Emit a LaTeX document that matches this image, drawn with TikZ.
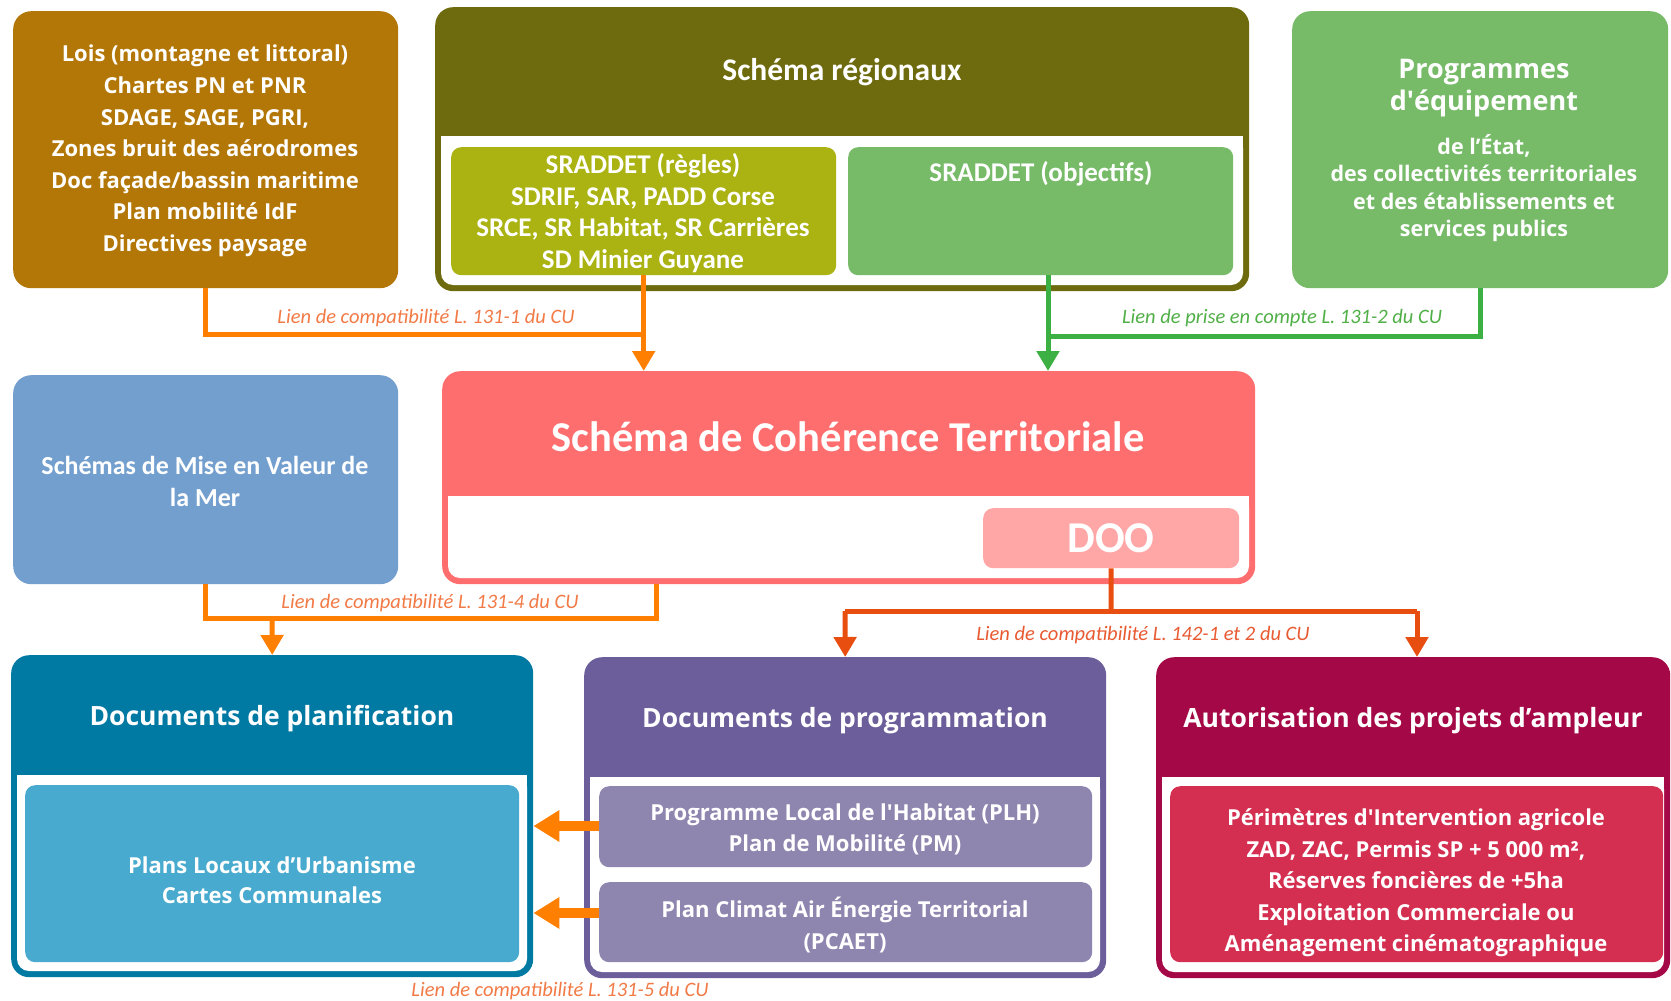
\documentclass[tikz,border=0pt]{standalone}
\usepackage{fontspec}
\setmainfont{Open Sans}
\newfontfamily\carl{Carlito}
\newfontfamily\plainos{Open Sans}
\usetikzlibrary{arrows.meta,calc}
\definecolor{loisc}{RGB}{179,119,8}
\definecolor{regc}{RGB}{110,107,14}
\definecolor{reglc}{RGB}{170,179,18}
\definecolor{greenc}{RGB}{119,187,105}
\definecolor{misec}{RGB}{115,159,207}
\definecolor{scotc}{RGB}{255,110,110}
\definecolor{dooc}{RGB}{255,166,166}
\definecolor{planc}{RGB}{0,121,163}
\definecolor{planic}{RGB}{72,170,206}
\definecolor{progc}{RGB}{108,94,154}
\definecolor{progic}{RGB}{143,134,176}
\definecolor{autc}{RGB}{165,8,70}
\definecolor{autic}{RGB}{212,46,80}
\definecolor{orl}{RGB}{255,127,0}
\definecolor{orlab}{RGB}{242,122,70}
\definecolor{grl}{RGB}{60,176,67}
\definecolor{grlab}{RGB}{80,175,70}
\definecolor{redl}{RGB}{232,78,15}
\definecolor{redlab}{RGB}{232,90,50}
\newcommand\sq{{\plainos\bfseries '}}
\begin{document}
\begin{tikzpicture}[x=1pt,y=-1pt,
  bx/.style={rectangle,rounded corners=18pt,inner sep=0pt,anchor=north west,draw=none},
  ibx/.style={rectangle,rounded corners=10pt,inner sep=0pt,anchor=north west,draw=none},
  wt/.style={text=white,align=center,inner sep=0pt},
  osb/.style={wt,font=\bfseries\fontsize{22}{31.6}\selectfont},
  crb/.style={wt,font=\carl\bfseries\fontsize{27}{31.6}\selectfont},
  ttl/.style={wt,font=\bfseries\fontsize{26.5}{30}\selectfont},
  lab/.style={inner sep=0pt,font=\carl\itshape\fontsize{20.5}{22}\selectfont},
  oline/.style={draw=orl,line width=5pt},
  gline/.style={draw=grl,line width=5pt},
  rline/.style={draw=redl,line width=5pt},
  tip/.style={-{Triangle[width=22pt,length=20pt]}},
  bigtip/.style={-{Triangle[width=30pt,length=26pt]}}
]
\useasboundingbox (0,0) rectangle (1671,1001);
\fill[white] (0,0) rectangle (1671,1001);

% ---- top row
\node[bx,fill=loisc,minimum width=385pt,minimum height=277pt] (lois) at (13,11) {};
\node[osb] (loist) at (205,151) {Lois (montagne et littoral)\\Chartes PN et PNR\\SDAGE, SAGE, PGRI,\\Zones bruit des aérodromes\\Doc façade/bassin maritime\\Plan mobilité IdF\\Directives paysage};

\node[bx,fill=regc,minimum width=814pt,minimum height=284pt] (reg) at (435,7) {};
\fill[white,rounded corners=12pt] (441,136) rectangle (1243,285);
\fill[white] (441,136) rectangle (1243,170);
\node[wt,font=\carl\bfseries\fontsize{31.5}{34}\selectfont] (regt) at (842,72) {Schéma régionaux};
\node[ibx,fill=reglc,minimum width=385pt,minimum height=128pt] (regl) at (451,147) {};
\node[crb] (reglt) at (643,213) {SRADDET (règles)\\SDRIF, SAR, PADD Corse\\SRCE, SR Habitat, SR Carrières\\SD Minier Guyane};
\node[ibx,fill=greenc,minimum width=385pt,minimum height=128pt] (obj) at (848,147) {};
\node[crb] (objt) at (1041,174) {SRADDET (objectifs)};

\node[bx,fill=greenc,minimum width=376pt,minimum height=277pt] (equip) at (1292,11) {};
\node[wt,font=\bfseries\fontsize{27}{32}\selectfont] (equipt) at (1484,88) {Programmes\\d{\plainos\bfseries\fontsize{27}{32}\selectfont '}équipement};
\node[wt,font=\bfseries\fontsize{21.5}{27.5}\selectfont] (equipd) at (1484,188) {de l’État,\\des collectivités territoriales\\et des établissements et\\services publics};

% ---- middle row
\node[bx,fill=misec,minimum width=385pt,minimum height=209pt] (mise) at (13,375) {};
\node[wt,font=\carl\bfseries\fontsize{26}{32}\selectfont] (miset) at (205,481) {Schémas de Mise en Valeur de\\la Mer};

\node[bx,fill=scotc,minimum width=813pt,minimum height=213pt] (scot) at (442,371) {};
\fill[white,rounded corners=12pt] (448,496) rectangle (1249,578);
\fill[white] (448,496) rectangle (1249,520);
\node[wt,font=\carl\bfseries\fontsize{42.5}{44}\selectfont] (scott) at (848,437) {Schéma de Cohérence Territoriale};
\node[ibx,fill=dooc,minimum width=256pt,minimum height=60pt] (doo) at (983,508) {};
\node[wt,font=\carl\bfseries\fontsize{44}{44}\selectfont] (doot) at (1111,538) {DOO};

% ---- bottom row
\node[bx,fill=planc,minimum width=522pt,minimum height=322pt] (plan) at (11,655) {};
\fill[white,rounded corners=12pt] (17,775) rectangle (527,971);
\fill[white] (17,775) rectangle (527,800);
\node[ttl] (plant) at (272,719) {Documents de planification};
\node[ibx,fill=planic,minimum width=494pt,minimum height=177pt] (plu) at (25,785) {};
\node[osb,font=\bfseries\fontsize{22}{30}\selectfont] (plut) at (272,880) {Plans Locaux d’Urbanisme\\Cartes Communales};

\node[bx,fill=progc,minimum width=522pt,minimum height=321pt] (prog) at (584,657) {};
\fill[white,rounded corners=12pt] (590,777) rectangle (1100,972);
\fill[white] (590,777) rectangle (1100,800);
\node[ttl] (progt) at (845,721) {Documents de programmation};
\node[ibx,fill=progic,minimum width=493pt,minimum height=81pt] (plh) at (599,786) {};
\node[osb] (plht) at (845,829.5) {Programme Local de l{\plainos\bfseries\fontsize{22}{31.6}\selectfont '}Habitat (PLH)\\Plan de Mobilité (PM)};
\node[ibx,fill=progic,minimum width=493pt,minimum height=80pt] (pcaet) at (599,882) {};
\node[osb] (pcaett) at (845,925) {Plan Climat Air Énergie Territorial\\(PCAET)};

\node[bx,fill=autc,minimum width=514pt,minimum height=321pt] (aut) at (1156,657) {};
\fill[white,rounded corners=12pt] (1162,777) rectangle (1664,972);
\fill[white] (1162,777) rectangle (1664,800);
\node[ttl] (autt) at (1413,721) {Autorisation des projets d’ampleur};
\node[ibx,fill=autic,minimum width=493pt,minimum height=176pt] (auti) at (1170,786) {};
\node[osb] (autit) at (1416,883) {Périmètres d{\plainos\bfseries\fontsize{22}{31.6}\selectfont '}Intervention agricole\\ZAD, ZAC, Permis SP + 5 000 m²,\\Réserves foncières de +5ha\\Exploitation Commerciale ou\\Aménagement cinématographique};

% ---- connectors
\coordinate (j1) at (643,334);
\draw[oline] (lois.south) |- (j1);
\draw[oline,tip] (regl.south) -- (regl.south |- scot.north);
\node[lab,text=orlab] (l1) at (426,318) {Lien de compatibilité L. 131-1 du CU};

\coordinate (j2) at (1048,336);
\draw[gline] (equip.south) |- (j2);
\draw[gline,tip] (j2 |- obj.south) -- (j2 |- scot.north);
\node[lab,text=grlab] (l2) at (1282,318) {Lien de prise en compte L. 131-2 du CU};

\coordinate (j3) at (656,618);
\draw[oline] (mise.south) |- (j3) -- (j3 |- scot.south);
\coordinate (j3b) at (272,618);
\draw[oline,tip] (j3b) -- (plan.north);
\node[lab,text=orlab] (l3) at (430,603) {Lien de compatibilité L. 131-4 du CU};

\coordinate (j4) at (1111,611);
\coordinate (j4a) at (845,611);
\coordinate (j4b) at (1417,611);
\draw[rline] (doo.south) -- (j4);
\draw[rline] (j4a) -- (j4b);
\draw[rline,tip] (j4a) -- (prog.north);
\draw[rline,tip] (j4b) -- (j4b |- aut.north);
\node[lab,text=redlab] (l4) at (1143,635) {Lien de compatibilité L. 142-1 et 2 du CU};

\draw[draw=orl,line width=10pt,bigtip] (plh.west |- 0,826) -- (plan.east |- 0,826);
\draw[draw=orl,line width=10pt,bigtip] (pcaet.west |- 0,913) -- (plan.east |- 0,913);
\node[lab,text=orlab] (l5) at (560,991) {Lien de compatibilité L. 131-5 du CU};
\end{tikzpicture}
\end{document}
